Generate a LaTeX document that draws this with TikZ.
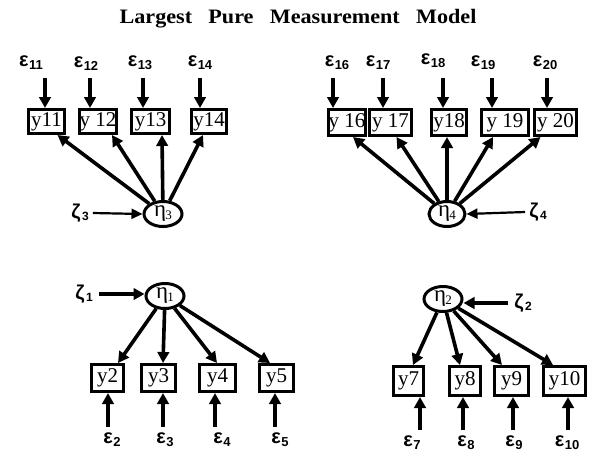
\documentclass[tikz,border=0pt]{standalone}
\usepackage{fontspec}
\setmainfont{Liberation Serif}
\newfontfamily\gsans{Liberation Sans}
\usetikzlibrary{arrows.meta,shapes.geometric}
\newcommand\epslab[1]{ε\kern0.5pt\raisebox{-3pt}{\fontsize{13}{13}\selectfont #1}}
\newcommand\zetalab[1]{ζ\kern1.5pt\raisebox{-2pt}{\fontsize{12}{12}\selectfont #1}}
\newcommand\etalab[1]{η\kern-1pt\raisebox{-3pt}{\fontsize{13}{13}\selectfont #1}}
\begin{document}
\begin{tikzpicture}[x=1pt,y=-1pt,
  obs/.style={draw,line width=3pt,inner sep=0pt,font=\fontsize{21}{21}\selectfont},
  lat/.style={draw,ellipse,line width=3pt,inner sep=0pt,minimum width=38pt,minimum height=25pt,font=\fontsize{23}{23}\selectfont},
  elab/.style={inner sep=0pt,font=\gsans\bfseries\fontsize{20}{20}\selectfont},
  arr/.style={line width=3.6pt,-{Triangle[length=11pt,width=11.5pt]}},
  thinarr/.style={line width=2.2pt,-{Triangle[length=11pt,width=10pt]}},
  ttl/.style={inner sep=0pt,font=\fontsize{20.5}{20.5}\selectfont\bfseries}
]
\useasboundingbox (0,0) rectangle (599,456);
\node[ttl] (title) at (298,19) {\scalebox{1.08}[1]{Largest\hspace{10pt} Pure\hspace{10pt} Measurement\hspace{10pt} Model}};

% ---------- top left ----------
\node[obs,minimum width=36pt,minimum height=24pt] (y11) at (46.5,121.5) {y11};
\node[obs,minimum width=37pt,minimum height=24pt] (y12) at (98,121.5) {y 12};
\node[obs,minimum width=38pt,minimum height=24pt] (y13) at (150.5,121.5) {y13};
\node[obs,minimum width=35pt,minimum height=24pt] (y14) at (209,121.5) {y14};
\node[elab] (e11) at (31,63) {\epslab{11}};
\node[elab] (e12) at (86,64) {\epslab{12}};
\node[elab] (e13) at (140,63) {\epslab{13}};
\node[elab] (e14) at (200,63) {\epslab{14}};
\coordinate (s11) at (45,78);
\coordinate (s12) at (90,78);
\coordinate (s13) at (143,78);
\coordinate (s14) at (200,78);
\draw[arr] (s11) -- (s11 |- y11.north);
\draw[arr] (s12) -- (s12 |- y12.north);
\draw[arr] (s13) -- (s13 |- y13.north);
\draw[arr] (s14) -- (s14 |- y14.north);
\node[lat] (eta3) at (163,214) {\etalab{3}};
\node[elab] (z3) at (80,213) {\zetalab{3}};
\draw[thinarr] ([xshift=4pt]z3.east) -- (eta3.west);
\draw[arr] (eta3) -- ([xshift=11pt]y11.south);
\draw[arr] (eta3) -- ([xshift=14pt]y12.south);
\draw[arr] (eta3) -- ([xshift=11.5pt]y13.south);
\draw[arr] (eta3) -- ([xshift=-6pt]y14.south);

% ---------- top right ----------
\node[obs,minimum width=37pt,minimum height=26pt] (y16) at (347,122.5) {y 16};
\node[obs,minimum width=42pt,minimum height=26pt] (y17) at (390.5,122.5) {y 17};
\node[obs,minimum width=35pt,minimum height=26pt] (y18) at (449,122.5) {y18};
\node[obs,minimum width=47pt,minimum height=26pt] (y19) at (505,122.5) {y 19};
\node[obs,minimum width=42pt,minimum height=26pt] (y20) at (555.5,122.5) {y 20};
\node[elab] (e16) at (337,63) {\epslab{16}};
\node[elab] (e17) at (378,63) {\epslab{17}};
\node[elab] (e18) at (433,61) {\epslab{18}};
\node[elab] (e19) at (483,63) {\epslab{19}};
\node[elab] (e20) at (545,63) {\epslab{20}};
\coordinate (s16) at (333,78);
\coordinate (s17) at (383,78);
\coordinate (s18) at (443,78);
\coordinate (s19) at (492,78);
\coordinate (s20) at (547,78);
\draw[arr] (s16) -- (s16 |- y16.north);
\draw[arr] (s17) -- (s17 |- y17.north);
\draw[arr] (s18) -- (s18 |- y18.north);
\draw[arr] (s19) -- (s19 |- y19.north);
\draw[arr] (s20) -- (s20 |- y20.north);
\node[lat,minimum width=36pt] (eta4) at (447,214) {\etalab{4}};
\node[elab] (z4) at (538,212) {\zetalab{4}};
\draw[thinarr] ([xshift=-4pt]z4.west) -- (eta4.east);
\draw[arr] (eta4) -- ([xshift=6pt]y16.south);
\draw[arr] (eta4) -- ([xshift=6pt]y17.south);
\draw[arr] (eta4) -- ([xshift=-2pt]y18.south);
\draw[arr] (eta4) -- ([xshift=-12pt]y19.south);
\draw[arr] (eta4) -- ([xshift=-15pt]y20.south);

% ---------- bottom left ----------
\node[lat] (eta1) at (165,296) {\etalab{1}};
\node[elab] (z1) at (84,294) {\zetalab{1}};
\draw[arr] ([xshift=6pt]z1.east) -- (z1.east -| eta1.west);
\node[obs,minimum width=32pt,minimum height=27pt] (y2) at (107.5,378) {y2};
\node[obs,minimum width=34pt,minimum height=27pt] (y3) at (158.5,378) {y3};
\node[obs,minimum width=36pt,minimum height=27pt] (y4) at (217.5,378) {y4};
\node[obs,minimum width=34pt,minimum height=27pt] (y5) at (276.5,378) {y5};
\draw[arr] (eta1) -- ([xshift=10.5pt]y2.north);
\draw[arr] (eta1) -- ([xshift=4.5pt]y3.north);
\draw[arr] (eta1) -- ([xshift=-0.5pt]y4.north);
\draw[arr] (eta1) -- ([xshift=-6.5pt]y5.north);
\coordinate (s2) at (108,427);
\coordinate (s3) at (163,427);
\coordinate (s4) at (215,427);
\coordinate (s5) at (275,427);
\draw[arr] (s2) -- (s2 |- y2.south);
\draw[arr] (s3) -- (s3 |- y3.south);
\draw[arr] (s4) -- (s4 |- y4.south);
\draw[arr] (s5) -- (s5 |- y5.south);
\node[elab] (e2) at (112,440) {\epslab{2}};
\node[elab] (e3) at (165,440) {\epslab{3}};
\node[elab] (e4) at (222,440) {\epslab{4}};
\node[elab] (e5) at (280,440) {\epslab{5}};

% ---------- bottom right ----------
\node[lat] (eta2) at (443,299) {\etalab{2}};
\node[elab] (z2) at (523,303) {\zetalab{2}};
\draw[arr] ([xshift=-6pt]z2.west) -- (z2.west -| eta2.east);
\node[obs,minimum width=30pt,minimum height=29pt] (y7) at (408.5,381) {y7};
\node[obs,minimum width=31pt,minimum height=29pt] (y8) at (465,381) {y8};
\node[obs,minimum width=34pt,minimum height=29pt] (y9) at (511.5,381) {y9};
\node[obs,minimum width=42pt,minimum height=29pt] (y10) at (564.5,381) {y10};
\draw[arr] (eta2) -- ([xshift=4.5pt]y7.north);
\draw[arr] (eta2) -- ([xshift=-5pt]y8.north);
\draw[arr] (eta2) -- ([xshift=-9.5pt]y9.north);
\draw[arr] (eta2) -- ([xshift=-11.5pt]y10.north);
\coordinate (s7) at (420,430);
\coordinate (s8) at (463,430);
\coordinate (s9) at (513,430);
\coordinate (s10) at (568,430);
\draw[arr] (s7) -- (s7 |- y7.south);
\draw[arr] (s8) -- (s8 |- y8.south);
\draw[arr] (s9) -- (s9 |- y9.south);
\draw[arr] (s10) -- (s10 |- y10.south);
\node[elab] (e7) at (412,443) {\epslab{7}};
\node[elab] (e8) at (466,443) {\epslab{8}};
\node[elab] (e9) at (514,443) {\epslab{9}};
\node[elab] (e10) at (567,443) {\epslab{10}};
\end{tikzpicture}
\end{document}
